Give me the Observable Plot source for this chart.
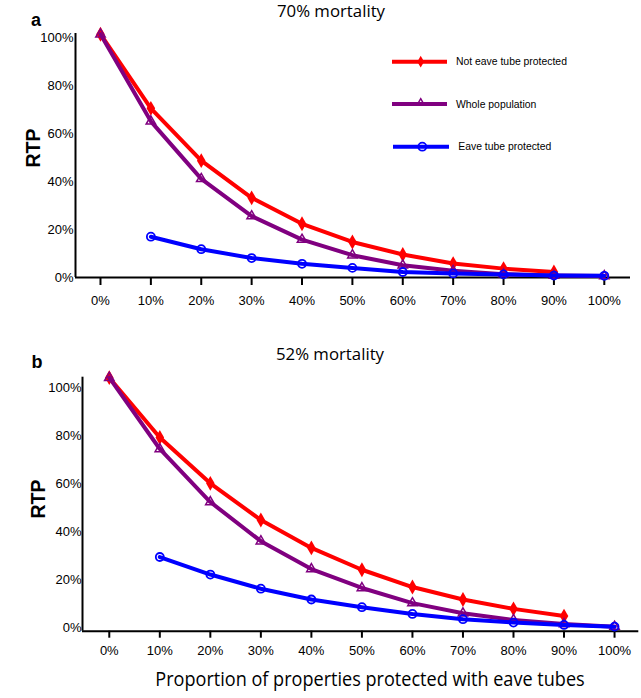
<!DOCTYPE html>
<html>
<head>
<meta charset="utf-8">
<script src="https://cdn.jsdelivr.net/npm/d3@7"></script>
<script src="https://cdn.jsdelivr.net/npm/@observablehq/plot@0.6"></script>
<style>
  html, body { margin: 0; padding: 0; background: #fff; }
  #wrap { position: relative; width: 641px; height: 698px; overflow: hidden; background: #fff; }
  .abs { position: absolute; line-height: 1; white-space: nowrap; color: #000; }
  .c { transform: translate(-50%, -50%); }
  .title { font-family: "Open Sans", "Noto Sans", sans-serif; font-size: 16.8px; }
  .panel { font-family: "Liberation Sans", Arial, sans-serif; font-weight: bold; font-size: 18px; }
  .ylab { font-family: "Liberation Sans", Arial, sans-serif; font-weight: bold; font-size: 19.5px; transform: translate(-50%, -50%) rotate(-90deg); }
  .xlab { font-family: "Open Sans", "Noto Sans", sans-serif; font-size: 19.5px; transform: translate(-50%, -50%) scaleX(0.927); }
  svg { position: absolute; }
</style>
</head>
<body>
<div id="wrap"></div>
<script>
// ---- data ----
const proportions = [0, 10, 20, 30, 40, 50, 60, 70, 80, 90, 100];
const xTickLabels = ["0%", "10%", "20%", "30%", "40%", "50%", "60%", "70%", "80%", "90%", "100%"];
const yTicks = [0, 20, 40, 60, 80, 100];
const yTickLabels = ["0%", "20%", "40%", "60%", "80%", "100%"];
const seriesNames = ["Not eave tube protected", "Whole population", "Eave tube protected"];
const seriesColors = ["#ff0000", "#800080", "#0000ff"];

// Panel a: 70% mortality (RTP, %)
const notProtectedA = [101.4, 70.5, 48.7, 33.2, 22.4, 14.8, 9.6, 5.8, 3.7, 2.3, null];
const wholeA        = [101.4, 65.1, 41.1, 25.6, 15.8, 9.3, 5.1, 2.8, 1.4, 0.8, 0.6];
const protectedA    = [null, 17.0, 11.8, 8.1, 5.7, 4.0, 2.3, 1.7, 1.3, 0.8, 0.7];

// Panel b: 52% mortality (RTP, %)
const notProtectedB = [104.3, 79.4, 60.3, 45.0, 33.4, 24.3, 17.1, 11.9, 8.0, 5.0, null];
const wholeB        = [104.3, 74.6, 52.5, 36.2, 24.6, 16.7, 10.4, 6.2, 3.4, 1.7, 0.6];
const protectedB    = [null, 29.6, 22.3, 16.4, 11.9, 8.7, 5.9, 3.7, 2.3, 1.3, 0.6];

const titles = ["70% mortality", "52% mortality"];
const panelLetters = ["a", "b"];
const yTitle = "RTP";
const xTitle = "Proportion of properties protected with eave tubes";

// ---- helpers ----
function rows(values, name) {
  return proportions.map((p, i) => ({x: p, y: values[i], series: name})).filter(d => d.y != null);
}
const xFmt = d => xTickLabels[proportions.indexOf(d)];
const yFmt = d => yTickLabels[yTicks.indexOf(d)];

function panel(sets, opt) {
  const [red, purple, blue] = sets;
  const rRed = rows(red, seriesNames[0]);
  const rPur = rows(purple, seriesNames[1]);
  const rBlu = rows(blue, seriesNames[2]);
  return Plot.plot({
    width: 641, height: opt.height,
    marginLeft: opt.ml, marginRight: opt.mr, marginTop: opt.mt, marginBottom: opt.mb,
    style: {fontFamily: "'Liberation Sans', Arial, sans-serif", fontSize: "13px", color: "#000", background: "transparent", overflow: "visible"},
    x: {domain: opt.xd},
    y: {domain: opt.yd},
    marks: [
      Plot.axisX({ticks: proportions, tickFormat: xFmt, tickSize: opt.ts, tickPadding: opt.tpx, strokeWidth: 2, label: null, fontSize: 13}),
      Plot.axisY({ticks: yTicks, tickFormat: yFmt, tickSize: 0, tickPadding: opt.tpy, label: null, fontSize: 13}),
      Plot.ruleY([opt.yd[0]], {stroke: "#000", strokeWidth: 2}),
      Plot.ruleX([opt.xd[0]], {stroke: "#000", strokeWidth: 2}),
      Plot.line(rRed, {x: "x", y: "y", stroke: seriesColors[0], strokeWidth: 4}),
      Plot.dot(rRed, {x: "x", y: "y", symbol: "diamond", fill: seriesColors[0], r: 4.5}),
      Plot.line(rPur, {x: "x", y: "y", stroke: seriesColors[1], strokeWidth: 4}),
      Plot.dot(rPur, {x: "x", y: "y", symbol: "triangle2", stroke: seriesColors[1], strokeWidth: 1.5, r: 4.5}),
      Plot.line(rBlu, {x: "x", y: "y", stroke: seriesColors[2], strokeWidth: 4}),
      Plot.dot(rBlu, {x: "x", y: "y", symbol: "circle", stroke: seriesColors[2], fill: "none", strokeWidth: 1.8, r: 4})
    ]
  });
}

const wrap = document.getElementById("wrap");

const svgA = panel([notProtectedA, wholeA, protectedA], {
  height: 312, ml: 75, mr: 11, mt: 33, mb: 35,
  xd: [-4.96, 105.2], yd: [0, 101.7], ts: 8, tpx: 10, tpy: 2
});
svgA.style.left = "0px"; svgA.style.top = "0px";
wrap.appendChild(svgA);

const svgB = panel([notProtectedB, wholeB, protectedB], {
  height: 320, ml: 82, mr: 2.7, mt: 26.7, mb: 39.3,
  xd: [-5.3, 104.8], yd: [-1.3, 104.5], ts: 7, tpx: 8, tpy: 1
});
svgB.style.left = "0px"; svgB.style.top = "350px";
wrap.appendChild(svgB);

function addText(txt, cls, x, y, center = true) {
  const d = document.createElement("div");
  d.className = "abs " + cls + (center ? " c" : "");
  d.textContent = txt;
  d.style.left = x + "px";
  d.style.top = y + "px";
  wrap.appendChild(d);
  return d;
}
addText(titles[0], "title", 331, 11);
addText(titles[1], "title", 330, 354);
addText(panelLetters[0], "panel", 36, 20);
addText(panelLetters[1], "panel", 37, 362);
addText(yTitle, "ylab", 34, 148);
addText(yTitle, "ylab", 39, 499);
addText(xTitle, "xlab", 369.5, 679);

// ---- legend (panel a) ----
const leg = d3.select(wrap).append("svg")
  .attr("width", 240).attr("height", 120)
  .style("left", "380px").style("top", "40px");
const legY = [21.7, 64, 106.7];
const symbols = ["diamond", "triangle", "circle"];
seriesNames.forEach((name, i) => {
  const g = leg.append("g").attr("transform", `translate(0,${legY[i]})`);
  const x0 = i === 2 ? 13 : 12, x1 = i === 2 ? 69 : 67, xm = i === 2 ? 42.3 : 40.7;
  g.append("line").attr("x1", x0).attr("x2", x1).attr("stroke", seriesColors[i]).attr("stroke-width", 4);
  if (symbols[i] === "diamond") {
    g.append("path").attr("d", d3.symbol(d3.symbolDiamond, 40)()).attr("transform", `translate(${xm},0)`).attr("fill", seriesColors[i]);
  } else if (symbols[i] === "triangle") {
    g.append("path").attr("d", d3.symbol(d3.symbolTriangle2, 40)()).attr("transform", `translate(${xm},-1)`).attr("fill", "none").attr("stroke", seriesColors[i]).attr("stroke-width", 1.5);
  } else {
    g.append("circle").attr("cx", xm).attr("r", 4).attr("fill", "none").attr("stroke", seriesColors[i]).attr("stroke-width", 1.8);
  }
  g.append("text").attr("x", i === 2 ? 78.3 : 76).attr("dy", "0.35em")
    .attr("font-family", "'Liberation Sans', Arial, sans-serif").attr("font-size", 10.4)
    .text(name);
});
</script>
</body>
</html>
